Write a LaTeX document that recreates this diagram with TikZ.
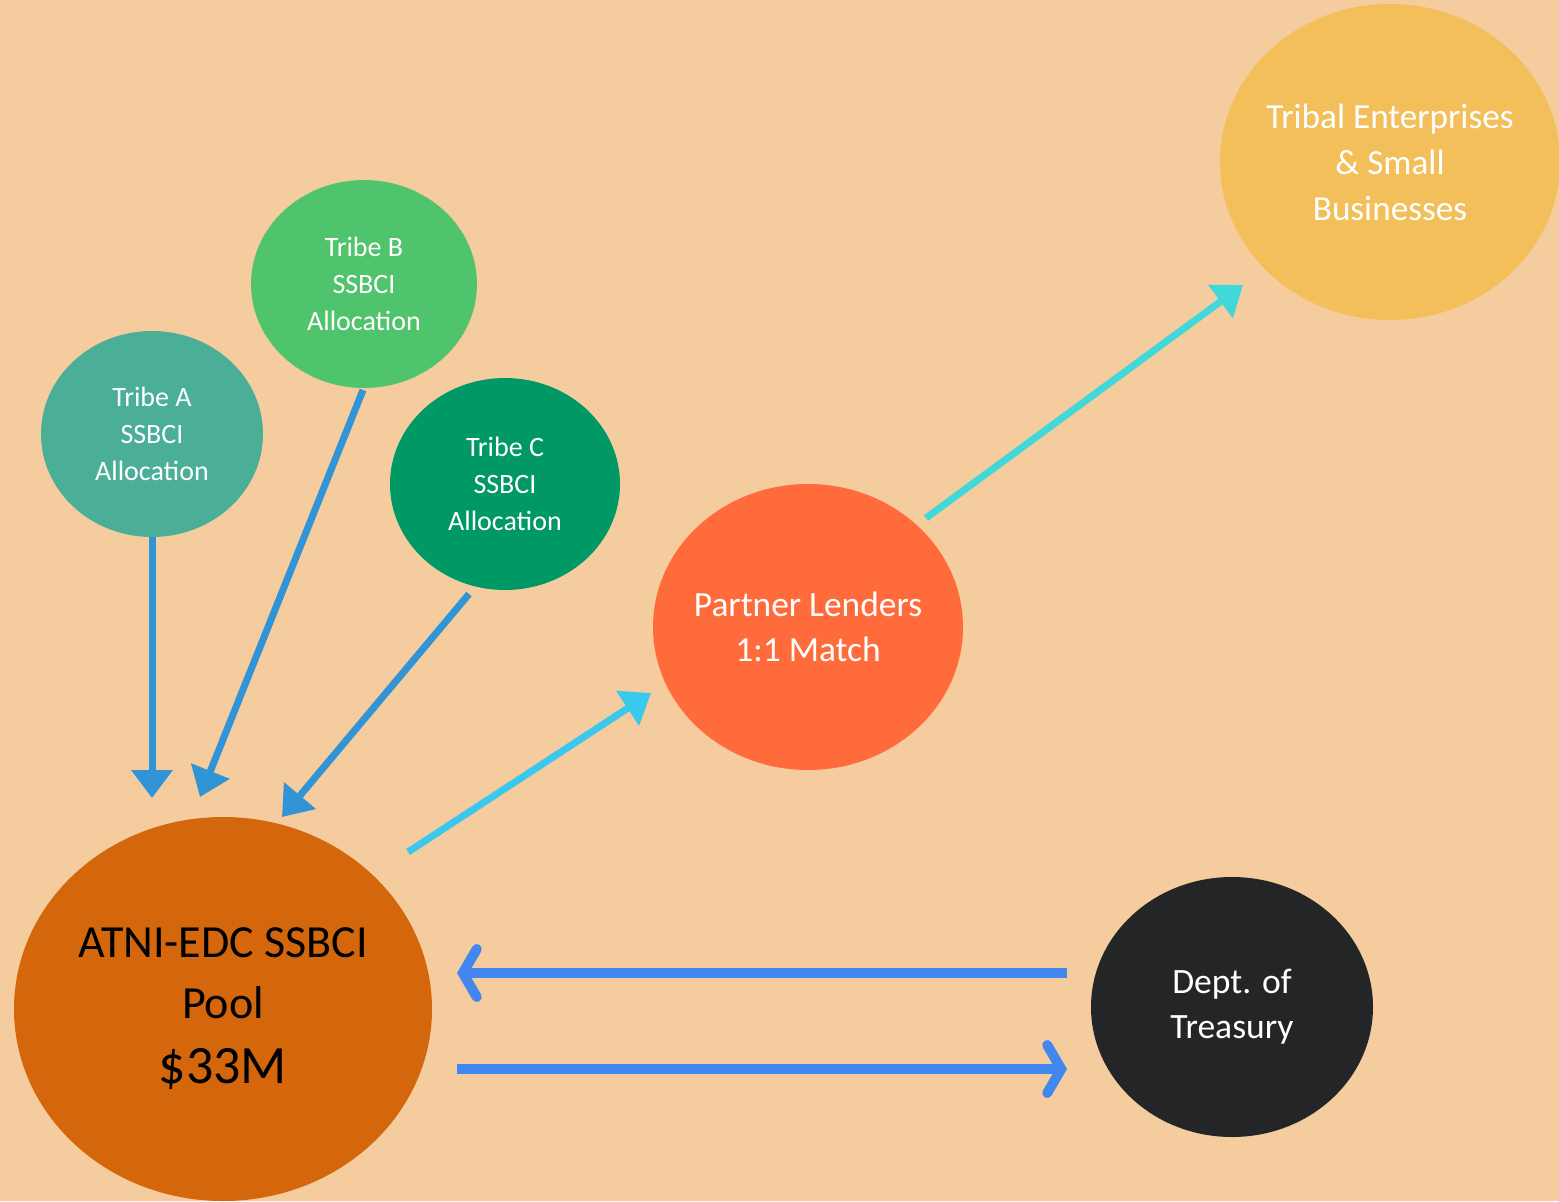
\documentclass[tikz,border=0pt]{standalone}
\usepackage{fontspec}
\setmainfont{Carlito}
\usetikzlibrary{arrows.meta,shapes.geometric}
\definecolor{bg}{HTML}{F4CC9E}
\definecolor{tribeA}{HTML}{4BAE97}
\definecolor{tribeB}{HTML}{50C46C}
\definecolor{tribeC}{HTML}{009966}
\definecolor{partner}{HTML}{FF6B3B}
\definecolor{tribal}{HTML}{F2BF5A}
\definecolor{pool}{HTML}{D4670C}
\definecolor{treas}{HTML}{242526}
\definecolor{blueA}{HTML}{3194D6}
\definecolor{cyanA}{HTML}{3BC8EE}
\definecolor{turqA}{HTML}{40D8D8}
\definecolor{blueB}{HTML}{4286F0}
\tikzset{
  blob/.style={ellipse, inner sep=-6pt, align=center, text=white},
  tribebox/.style={blob, font=\fontsize{14}{18.5}\selectfont},
  fatarrow/.style={line width=3.5pt, -{Triangle[width=20pt,length=14pt]}},
  barbarrow/.style={line width=5pt, -{Straight Barb[length=7pt,width=24pt,line cap=round,line join=miter]}},
}
\begin{document}
\begin{tikzpicture}[x=0.5pt,y=-0.5pt]
\fill[bg] (0,0) rectangle (1559,1201);
\useasboundingbox (0,0) rectangle (1559,1201);
% nodes
\node[tribebox, fill=tribeA, minimum width=111pt, minimum height=103pt] (ta) at (152,434) {Tribe A\\SSBCI\\Allocation};
\node[tribebox, fill=tribeB, minimum width=113pt, minimum height=104pt] (tb) at (364,284) {Tribe B\\SSBCI\\Allocation};
\node[tribebox, fill=tribeC, minimum width=115pt, minimum height=106pt] (tc) at (505,484) {Tribe C\\SSBCI\\Allocation};
\node[blob, fill=partner, minimum width=155pt, minimum height=143pt, font=\fontsize{17.7}{22.5}\selectfont] (pl) at (808,627) {Partner Lenders\\1:1 Match};
\node[blob, fill=tribal, minimum width=170pt, minimum height=158pt, font=\fontsize{17.6}{23}\selectfont] (te) at (1390,162) {Tribal Enterprises\\\& Small\\Businesses};
\node[blob, fill=pool, text=black, minimum width=209pt, minimum height=192pt, font=\fontsize{23}{30.5}\selectfont] (pool) at (223,1009) {ATNI-EDC SSBCI\\Pool\\[2pt]{\fontsize{27}{29}\selectfont \$33M}};
\node[blob, fill=treas, minimum width=141pt, minimum height=130pt, font=\fontsize{17.8}{22.5}\selectfont] (tr) at (1232,1007) {Dept. of\\Treasury};
% arrow end points (arrows stop short of the nodes)
\coordinate (aS) at (152,537);  \coordinate (aE) at (152,798);
\coordinate (bS) at (363,390);  \coordinate (bE) at (200,797);
\coordinate (cS) at (469,594);  \coordinate (cE) at (282,817);
\coordinate (pS) at (408,852);  \coordinate (pE) at (651,693);
\coordinate (eS) at (926,518);  \coordinate (eE) at (1243,285);
\coordinate (tlS) at (1067,973); \coordinate (tlE) at (457,973);
\coordinate (trS) at (457,1069); \coordinate (trE) at (1067,1069);
% connectors
\draw[fatarrow, blueA] (aS) -- (aE);
\draw[fatarrow, blueA] (bS) -- (bE);
\draw[fatarrow, blueA] (cS) -- (cE);
\draw[fatarrow, cyanA] (pS) -- (pE);
\draw[fatarrow, turqA] (eS) -- (eE);
\draw[barbarrow, blueB] (tlS) -- (tlE);
\draw[barbarrow, blueB] (trS) -- (trE);
\end{tikzpicture}
\end{document}
